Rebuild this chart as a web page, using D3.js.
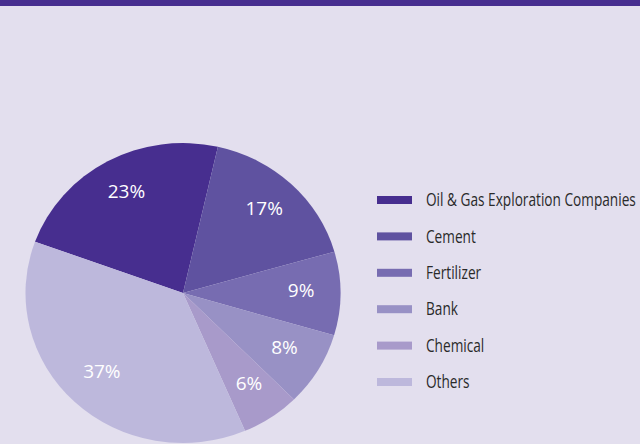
<!DOCTYPE html>
<html lang="en">
<head>
    <meta charset="utf-8">
    <title>Sector Allocation</title>
    <script src="https://d3js.org/d3.v7.min.js" charset="utf-8"></script>
    <style type="text/css">
        body { margin: 0; background: #e3dfee; }
        .legend text { font-family: "Open Sans", "Noto Sans", sans-serif; font-size: 17.5px; fill: #2a2a2a; }
        .pct { font-family: "Open Sans", "Noto Sans", sans-serif; font-size: 19px; fill: #ffffff; }
    </style>
</head>
<body>
    <script type="text/javascript">
    // data
    var sectors = ["Oil & Gas Exploration Companies", "Cement", "Fertilizer", "Bank", "Chemical", "Others"];
    var shares = [23, 17, 9, 8, 6, 37];
    var colors = ["#472e8f", "#5f52a0", "#776cb1", "#9891c5", "#a89aca", "#bdb8dc"];

    var width = 640, height = 444;

    var svg = d3.select("body").append("svg")
        .attr("width", width)
        .attr("height", height);

    svg.append("rect")
        .attr("width", width).attr("height", height)
        .attr("fill", "#e3dfee");

    // purple strip on top
    svg.append("rect")
        .attr("width", width).attr("height", 6)
        .attr("fill", "#472e8f");

    var cx = 183, cy = 293, r = 150, sx = 1.05;

    var pie = d3.pie()
        .sort(null)
        .startAngle(-70 * Math.PI / 180)
        .endAngle(290 * Math.PI / 180);

    var arc = d3.arc().innerRadius(0).outerRadius(r);
    var labelArc = d3.arc().innerRadius(r * 0.75).outerRadius(r * 0.75);

    var arcs = pie(shares);

    // slightly wider than tall, like the original
    var g = svg.append("g")
        .attr("transform", "translate(" + cx + "," + cy + ") scale(" + sx + ",1)");

    g.selectAll("path")
        .data(arcs)
        .enter()
        .append("path")
        .attr("d", arc)
        .attr("fill", function (d, i) { return colors[i]; });

    svg.append("g")
        .attr("transform", "translate(" + cx + "," + (cy - 3) + ")")
        .selectAll("text")
        .data(arcs)
        .enter()
        .append("text")
        .attr("class", "pct")
        .attr("x", function (d) { return labelArc.centroid(d)[0] * sx; })
        .attr("y", function (d) { return labelArc.centroid(d)[1]; })
        .attr("text-anchor", "middle")
        .attr("dy", "0.35em")
        .text(function (d) { return d.data + "%"; });

    // legend
    var legend = svg.append("g")
        .attr("class", "legend")
        .attr("transform", "translate(377,200)");

    var y = d3.scalePoint()
        .domain(sectors)
        .range([0, 182]);

    var row = legend.selectAll("g")
        .data(sectors)
        .enter()
        .append("g")
        .attr("transform", function (d) { return "translate(0," + y(d) + ")"; });

    row.append("rect")
        .attr("y", -4)
        .attr("width", 35)
        .attr("height", 8)
        .attr("fill", function (d, i) { return colors[i]; });

    var labels = row.append("text")
        .attr("dy", "0.35em")
        .text(function (d) { return d; });

    // the original uses a condensed face, squeeze so the longest label fits
    var longest = d3.max(labels.nodes(), function (n) { return n.getComputedTextLength(); });
    var squeeze = 210 / longest;
    labels.attr("transform", "translate(49,0) scale(" + squeeze + ",1)");
    </script>
</body>
</html>
